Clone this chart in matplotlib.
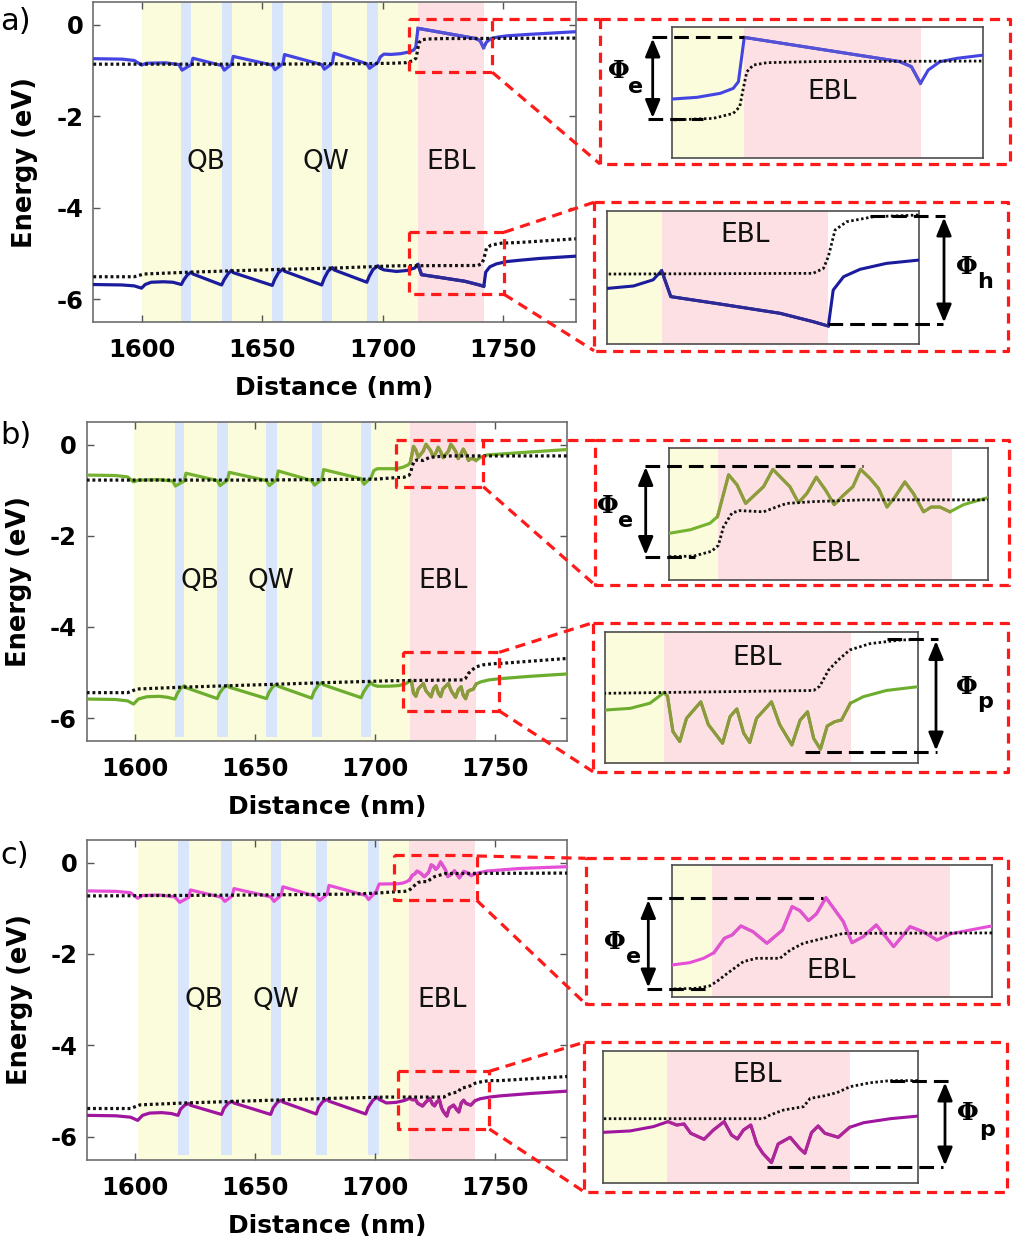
import numpy as np
import matplotlib
matplotlib.use('Agg')
import matplotlib.pyplot as plt
from matplotlib.lines import Line2D
from matplotlib.patches import FancyArrowPatch

plt.rcParams['font.family'] = ['DejaVu Sans']
plt.rcParams['axes.unicode_minus'] = False

# ---- layer layout (nm) ----
a_qb_start = 1600
a_qw = [(1616.5, 1620.6), (1633.2, 1637.3), (1654.2, 1658.6), (1674.7, 1679.1), (1693.4, 1698.0)]
a_ebl = (1714.6, 1741.9)

b_qb_start = 1599.5
b_qw = [(1616.7, 1620.6), (1634.3, 1638.6), (1654.8, 1659.0), (1673.6, 1677.9), (1694.2, 1698.3)]
b_ebl = (1714.7, 1742.2)

c_qb_start = 1601
c_qw = [(1617.8, 1622.3), (1635.9, 1640.4), (1656.4, 1660.8), (1675.4, 1680.0), (1697.1, 1701.6)]
c_ebl = (1714.1, 1741.5)

# ---- band diagrams: (distance nm, energy eV) ----
a_cb = [(1580, -0.74), (1592, -0.75), (1597, -0.78), (1600, -0.88), (1602, -0.84), (1610, -0.83),
        (1615.5, -0.87), (1616.8, -0.99), (1620.6, -0.87), (1621.3, -0.73),
        (1633.2, -0.89), (1634.3, -0.99), (1637.3, -0.86), (1638.0, -0.69),
        (1654.2, -0.88), (1655.3, -0.98), (1658.6, -0.85), (1659.3, -0.65),
        (1674.7, -0.87), (1675.8, -0.97), (1679.1, -0.84), (1679.8, -0.62),
        (1693.4, -0.85), (1694.5, -0.95), (1698.0, -0.82), (1699.0, -0.70), (1700.5, -0.64),
        (1703.4, -0.647), (1707.3, -0.631), (1710.9, -0.594), (1712.9, -0.548), (1713.7, -0.486),
        (1714.6, -0.076), (1738.6, -0.30), (1740.4, -0.347), (1741.8, -0.502), (1743.0, -0.378),
        (1744.8, -0.301), (1747.4, -0.27), (1751.5, -0.24), (1760, -0.21), (1770, -0.18), (1780, -0.15)]
a_efn = [(1580, -0.86), (1600, -0.86), (1650, -0.86), (1690, -0.85), (1703.4, -0.841), (1709.8, -0.826),
         (1712.9, -0.78), (1713.9, -0.718), (1714.5, -0.533), (1715.0, -0.394), (1716.0, -0.332),
         (1718.1, -0.31), (1725.3, -0.30), (1780, -0.29)]
a_vb = [(1580, -5.68), (1592, -5.69), (1597, -5.71), (1600, -5.76), (1601.5, -5.68), (1604, -5.63),
        (1609, -5.62), (1613, -5.63), (1616.5, -5.68), (1617.5, -5.58), (1619, -5.47), (1620.6, -5.41),
        (1621.3, -5.45), (1633.2, -5.69), (1634.2, -5.58), (1635.8, -5.45), (1637.3, -5.37), (1638.0, -5.42),
        (1654.2, -5.70), (1655.2, -5.57), (1656.8, -5.42), (1658.6, -5.34), (1659.3, -5.39),
        (1674.7, -5.69), (1675.7, -5.55), (1677.3, -5.39), (1679.1, -5.31), (1679.8, -5.36),
        (1693.4, -5.63), (1694.4, -5.50), (1696.0, -5.35), (1698.0, -5.27), (1698.8, -5.32), (1700.5, -5.36),
        (1705.7, -5.394), (1710.0, -5.373), (1713.2, -5.32), (1714.6, -5.241), (1716.1, -5.465),
        (1724.2, -5.529), (1734.0, -5.609), (1739.4, -5.681), (1741.9, -5.719), (1742.7, -5.408),
        (1744.4, -5.293), (1747.1, -5.229), (1751.4, -5.178), (1756.8, -5.149), (1765, -5.11), (1780, -5.06)]
a_efp = [(1580, -5.51), (1597, -5.51), (1601, -5.45), (1620, -5.41), (1650, -5.36), (1680, -5.32),
         (1705.7, -5.27), (1739.4, -5.264), (1741.1, -5.221), (1741.9, -5.12), (1743.0, -4.89),
         (1744.9, -4.818), (1749.3, -4.775), (1756.8, -4.76), (1780, -4.68)]

b_cb = [(1580, -0.67), (1592, -0.68), (1597, -0.71), (1599.5, -0.82), (1601.5, -0.78), (1610, -0.77),
        (1615.8, -0.80), (1616.9, -0.91), (1620.6, -0.80), (1621.3, -0.63),
        (1634.3, -0.79), (1635.5, -0.90), (1638.6, -0.78), (1639.3, -0.61),
        (1654.8, -0.79), (1656.0, -0.90), (1659.0, -0.77), (1659.7, -0.58),
        (1673.6, -0.79), (1674.8, -0.89), (1677.9, -0.76), (1678.6, -0.55),
        (1694.2, -0.75), (1695.4, -0.87), (1698.3, -0.73), (1699.5, -0.57), (1701, -0.53),
        (1709, -0.53), (1711.5, -0.50), (1713.8, -0.446), (1714.7, -0.39), (1716.0, -0.04), (1717.0, -0.126),
        (1718.0, -0.28), (1720.1, -0.14), (1721.2, 0.005), (1723.2, -0.14), (1724.2, -0.274), (1725.2, -0.196),
        (1726.3, -0.06), (1727.4, -0.17), (1728.4, -0.29), (1729.5, -0.21), (1730.6, -0.14), (1731.5, 0.005),
        (1732.6, -0.07), (1733.6, -0.154), (1734.6, -0.31), (1735.5, -0.23), (1736.7, -0.10), (1737.7, -0.196),
        (1738.9, -0.35), (1739.8, -0.31), (1740.8, -0.31), (1742.0, -0.35), (1743.6, -0.29), (1746.5, -0.23),
        (1760, -0.18), (1780, -0.11)]
b_efn = [(1580, -0.78), (1650, -0.78), (1700, -0.76), (1709, -0.725), (1711.9, -0.72), (1714.0, -0.68),
         (1714.8, -0.63), (1715.4, -0.475), (1716.4, -0.36), (1717.3, -0.34), (1720.1, -0.35), (1721.6, -0.31),
         (1722.8, -0.28), (1725.9, -0.265), (1731.8, -0.25), (1780, -0.25)]
b_vb = [(1580, -5.58), (1592, -5.59), (1597, -5.62), (1599.5, -5.69), (1601.5, -5.58), (1605, -5.53),
        (1610, -5.52), (1613.5, -5.54), (1616.7, -5.58), (1617.7, -5.46), (1619.2, -5.34), (1620.6, -5.29),
        (1621.3, -5.33), (1634.3, -5.57), (1635.3, -5.45), (1637.0, -5.33), (1638.6, -5.28), (1639.3, -5.32),
        (1654.8, -5.57), (1655.8, -5.44), (1657.4, -5.31), (1659.0, -5.26), (1659.7, -5.30),
        (1673.6, -5.56), (1674.6, -5.42), (1676.3, -5.28), (1677.9, -5.22), (1678.6, -5.27),
        (1694.2, -5.55), (1695.2, -5.43), (1696.8, -5.30), (1698.3, -5.22), (1699.2, -5.27), (1701, -5.30),
        (1706.0, -5.298), (1709.7, -5.286), (1712.6, -5.25), (1714.7, -5.175), (1715.2, -5.20), (1716.0, -5.45),
        (1717.0, -5.52), (1718.0, -5.356), (1720.1, -5.24), (1721.2, -5.40), (1723.3, -5.532), (1724.4, -5.344),
        (1725.4, -5.29), (1726.4, -5.46), (1727.3, -5.527), (1728.3, -5.356), (1730.5, -5.24), (1731.7, -5.40),
        (1733.5, -5.544), (1734.7, -5.37), (1735.8, -5.31), (1736.7, -5.497), (1737.7, -5.574), (1738.7, -5.41),
        (1739.8, -5.38), (1740.8, -5.368), (1742.1, -5.25), (1744.0, -5.204), (1747.4, -5.16), (1752.1, -5.133),
        (1765, -5.08), (1780, -5.03)]
b_efp = [(1580, -5.44), (1597, -5.44), (1601, -5.36), (1620, -5.32), (1650, -5.27), (1680, -5.22),
         (1706, -5.18), (1736.7, -5.16), (1737.6, -5.13), (1738.9, -5.016), (1740.3, -4.946), (1742.0, -4.875),
         (1745.0, -4.83), (1749.4, -4.805), (1752.1, -4.80), (1780, -4.69)]

c_cb = [(1580, -0.62), (1592, -0.63), (1598, -0.66), (1601, -0.78), (1603, -0.72), (1610, -0.71),
        (1616.5, -0.75), (1618.5, -0.87), (1622.3, -0.76), (1623.0, -0.60),
        (1635.9, -0.76), (1637.3, -0.85), (1640.4, -0.73), (1641.1, -0.57),
        (1656.4, -0.75), (1657.8, -0.85), (1660.8, -0.71), (1661.5, -0.53),
        (1675.4, -0.74), (1676.8, -0.83), (1680.0, -0.69), (1680.7, -0.50),
        (1696.0, -0.72), (1697.2, -0.81), (1700.5, -0.62), (1701.6, -0.47),
        (1709.5, -0.464), (1711.5, -0.448), (1713.1, -0.417), (1714.3, -0.377), (1715.5, -0.275), (1716.4, -0.251),
        (1717.4, -0.187), (1718.8, -0.228), (1720.4, -0.31), (1722.2, -0.216), (1723.3, -0.05), (1724.2, -0.078),
        (1725.2, -0.149), (1726.1, -0.102), (1727.2, 0.014), (1729.2, -0.156), (1730.2, -0.306), (1731.5, -0.263),
        (1733.0, -0.18), (1735.0, -0.334), (1736.9, -0.192), (1738.4, -0.228), (1740.0, -0.287), (1741.5, -0.244),
        (1743.8, -0.216), (1746.3, -0.187), (1760, -0.13), (1780, -0.09)]
c_efn = [(1580, -0.73), (1650, -0.71), (1690, -0.69), (1700, -0.67), (1709.5, -0.635), (1712.3, -0.63),
         (1713.8, -0.613), (1714.6, -0.583), (1716.1, -0.512), (1717.7, -0.44), (1719.2, -0.417), (1721.9, -0.417),
         (1723.1, -0.358), (1724.6, -0.31), (1726.9, -0.275), (1729.2, -0.24), (1780, -0.23)]
c_vb = [(1580, -5.53), (1592, -5.54), (1598, -5.57), (1601, -5.64), (1603, -5.53), (1606, -5.48),
        (1611, -5.47), (1615, -5.49), (1617.8, -5.53), (1618.8, -5.40), (1620.5, -5.31), (1622.3, -5.27),
        (1623.0, -5.31), (1635.9, -5.51), (1636.9, -5.38), (1638.6, -5.27), (1640.4, -5.22), (1641.1, -5.26),
        (1656.4, -5.51), (1657.4, -5.37), (1659.1, -5.25), (1660.8, -5.20), (1661.5, -5.24),
        (1675.4, -5.50), (1676.4, -5.35), (1678.1, -5.23), (1680.0, -5.18), (1680.7, -5.22),
        (1696.0, -5.50), (1697.0, -5.36), (1699.0, -5.20), (1700.8, -5.13), (1701.6, -5.18),
        (1704.6, -5.259), (1708.6, -5.246), (1712.1, -5.205), (1714.3, -5.158), (1715.6, -5.19), (1716.7, -5.18),
        (1717.7, -5.268), (1719.7, -5.325), (1721.1, -5.237), (1722.7, -5.158), (1723.8, -5.284), (1724.7, -5.322),
        (1725.6, -5.237), (1726.7, -5.19), (1727.6, -5.369), (1728.5, -5.457), (1729.8, -5.545), (1730.8, -5.369),
        (1732.6, -5.306), (1734.0, -5.41), (1734.8, -5.457), (1735.8, -5.262), (1736.8, -5.199), (1737.8, -5.268),
        (1739.8, -5.306), (1741.5, -5.212), (1743.6, -5.168), (1747.6, -5.13), (1751.8, -5.105),
        (1765, -5.05), (1780, -5.0)]
c_efp = [(1580, -5.38), (1598, -5.38), (1602, -5.30), (1620, -5.26), (1650, -5.21), (1680, -5.16),
         (1704.6, -5.13), (1728.6, -5.13), (1729.6, -5.095), (1731.6, -5.048), (1734.6, -5.016), (1735.6, -4.938),
         (1737.6, -4.915), (1739.6, -4.884), (1741.6, -4.827), (1744.6, -4.79), (1747.6, -4.77), (1751.8, -4.77),
         (1780, -4.68)]

# inset zoom windows (xlim, ylim)
a_zoom_cb = ((1703.4, 1751.5), (-1.19, 0.023))
a_zoom_vb = ((1705.7, 1756.8), (-5.874, -4.723))
b_zoom_cb = ((1709.0, 1746.5), (-0.92, 0.186))
b_zoom_vb = ((1706.0, 1752.1), (-5.673, -4.746))
c_zoom_cb = ((1709.5, 1746.3), (-0.694, 0.246))
c_zoom_vb = ((1704.6, 1751.8), (-5.741, -4.487))

x_ticks = [1600, 1650, 1700, 1750]
y_ticks = [-6, -4, -2, 0]

YELLOW = '#fafcdc'
BLUE = '#d8e5fa'
PINK = '#fde0e3'
RED = '#ff1a1a'

panels = {
    'a': dict(qb=a_qb_start, qw=a_qw, ebl=a_ebl, cb=a_cb, vb=a_vb, efn=a_efn, efp=a_efp,
              cb_col=('#4444e2', '#5552d4'), vb_col=('#1b1b9e', '#2d2a96'), qw_bottom=-6.5,
              labels=[('QB', 1626.6), ('QW', 1676.6), ('EBL', 1728.2)],
              zcb=a_zoom_cb, zvb=a_zoom_vb),
    'b': dict(qb=b_qb_start, qw=b_qw, ebl=b_ebl, cb=b_cb, vb=b_vb, efn=b_efn, efp=b_efp,
              cb_col=('#74b22f', '#8f9b3e'), vb_col=('#6cad2e', '#8c993c'), qw_bottom=-6.42,
              labels=[('QB', 1627.3), ('QW', 1656.8), ('EBL', 1728.3)],
              zcb=b_zoom_cb, zvb=b_zoom_vb),
    'c': dict(qb=c_qb_start, qw=c_qw, ebl=c_ebl, cb=c_cb, vb=c_vb, efn=c_efn, efp=c_efp,
              cb_col=('#e64ed8', '#de55cf'), vb_col=('#a0159f', '#ad2799'), qw_bottom=-6.40,
              labels=[('QB', 1628.8), ('QW', 1658.7), ('EBL', 1727.8)],
              zcb=c_zoom_cb, zvb=c_zoom_vb),
}

W, H = 1015, 1245
fig = plt.figure(figsize=(W / 100, H / 100), dpi=100)


def fx(px):
    return px / W


def fy(py):
    return 1 - py / H


def add_ax(l, t, r, b):
    return fig.add_axes([fx(l), fy(b), (r - l) / W, (b - t) / H])


def draw_layers(ax, p, ylim, main):
    ax.axvspan(p['qb'], p['ebl'][0], color=YELLOW, lw=0, zorder=0)
    ax.axvspan(p['ebl'][0], p['ebl'][1], color=PINK, lw=0, zorder=0)
    if main:
        ymin = (p['qw_bottom'] - ylim[0]) / (ylim[1] - ylim[0])
        for s, e in p['qw']:
            ax.axvspan(s, e, ymin=ymin, color=BLUE, lw=0, zorder=0.5)


def draw_curve(ax, data, cols, ebl, lw):
    x, y = np.array(data).T
    ax.plot(x, y, color=cols[0], lw=lw, solid_joinstyle='round', zorder=3)
    m = (x >= ebl[0] - 0.05) & (x <= ebl[1] + 0.05)
    ax.plot(x[m], y[m], color=cols[1], lw=lw, solid_joinstyle='round', zorder=3.1)


def draw_level(ax, data, lw):
    x, y = np.array(data).T
    ax.plot(x, y, color='#111111', lw=lw, ls=(0, (0.9, 0.9)), zorder=4)


main_box = {'a': (93.3, 2, 575.7, 322), 'b': (86.7, 421.7, 567.3, 741), 'c': (87.3, 839.7, 567.3, 1159.7)}
inset_cb_box = {'a': (671.7, 26.7, 983.3, 157.7), 'b': (669, 447.7, 988.3, 580), 'c': (672.3, 865, 991.7, 997.3)}
inset_vb_box = {'a': (607.3, 210.7, 919.3, 344), 'b': (605, 631.7, 918.3, 763.3), 'c': (603.3, 1050.7, 918.3, 1183.3)}
inset_cb_label = {'a': (0.514, 0.50), 'b': (0.52, 0.20), 'c': (0.497, 0.20)}
inset_vb_label = {'a': (0.441, 0.815), 'b': (0.484, 0.80), 'c': (0.489, 0.813)}
panel_tag_y = {'a': 21, 'b': 436, 'c': 856}

main_ylim = (-6.5, 0.5)
main_xlim = (1580, 1780)

for key, p in panels.items():
    ax = add_ax(*main_box[key])
    draw_layers(ax, p, main_ylim, True)
    draw_curve(ax, p['cb'], p['cb_col'], p['ebl'], 2.3)
    draw_curve(ax, p['vb'], p['vb_col'], p['ebl'], 2.3)
    draw_level(ax, p['efn'], 2.3)
    draw_level(ax, p['efp'], 2.3)
    for txt, xpos in p['labels']:
        ax.text(xpos, -3.0, txt, ha='center', va='center', fontsize=19, color='#111111', zorder=5)
    ax.set_xlim(*main_xlim)
    ax.set_ylim(*main_ylim)
    ax.set_xticks(x_ticks)
    ax.set_yticks(y_ticks)
    ax.set_xticklabels([str(v) for v in x_ticks])
    ax.set_yticklabels([str(v) for v in y_ticks])
    ax.tick_params(direction='in', length=5, width=1, top=True, right=True, color='#555555',
                   labelsize=17.5)
    ax.tick_params(axis='x', pad=11.5)
    ax.tick_params(axis='y', pad=7)
    for lbl in ax.get_xticklabels() + ax.get_yticklabels():
        lbl.set_fontweight('bold')
    for sp in ax.spines.values():
        sp.set_color('#6e6e6e')
        sp.set_linewidth(1.2)
    ax.set_xlabel('Distance (nm)', fontsize=18, fontweight='bold')
    ax.set_ylabel('Energy (eV)', fontsize=18.5, fontweight='bold')
    ax.xaxis.set_label_coords(0.5, -0.206)
    ax.xaxis.label.set_va('center')
    ax.yaxis.set_label_coords(-0.141, 0.5)
    ax.yaxis.label.set_va('center')
    fig.text(fx(0), fy(panel_tag_y[key]), key + ')', fontsize=22, ha='left', va='center')

    # zoomed insets
    for box, band, lvl, zoom, lab in ((inset_cb_box, 'cb', 'efn', p['zcb'], inset_cb_label),
                                      (inset_vb_box, 'vb', 'efp', p['zvb'], inset_vb_label)):
        ia = add_ax(*box[key])
        draw_layers(ia, p, zoom[1], False)
        draw_curve(ia, p[band], p[band + '_col'], p['ebl'], 2.2)
        draw_level(ia, p[lvl], 2.0)
        ia.set_xlim(*zoom[0])
        ia.set_ylim(*zoom[1])
        ia.set_xticks([])
        ia.set_yticks([])
        for sp in ia.spines.values():
            sp.set_color('#4d4d4d')
            sp.set_linewidth(1.2)
        ia.text(lab[key][0], lab[key][1], 'EBL', transform=ia.transAxes, ha='center', va='center',
                fontsize=19, color='#111111', zorder=5)


# ---- red dashed zoom boxes, frames and connectors (pixel layout) ----
def rect(l, t, r, b):
    return [(l, t), (r, t), (r, b), (l, b), (l, t)]


red_paths = [
    # a
    rect(409.3, 19, 492.3, 72.3), [(492.3, 19), (600, 19)], rect(600, 19, 1010, 164),
    [(492.3, 72.3), (600, 164)],
    rect(409.3, 232.3, 504, 294.3), [(504, 232.3), (594, 202.3)], [(504, 294.3), (594, 350.7)],
    rect(594, 202.3, 1008.3, 350.7),
    # b
    rect(396, 440, 483.3, 486.7), [(483.3, 440), (595, 440)], rect(595, 440, 1009, 585),
    [(483.3, 486.7), (595, 585)],
    rect(403.3, 652.3, 499.3, 711), [(499.3, 652.3), (593, 622.7)], [(499.3, 711), (593, 771.7)],
    rect(593, 622.7, 1007.7, 771.7),
    # c
    rect(394.3, 854.7, 476.7, 900.3), [(476.7, 856), (585.7, 858.3)], rect(585.7, 858.3, 1008.3, 1004),
    [(476.7, 900.3), (585.7, 1004)],
    rect(398.3, 1071.3, 489.3, 1129), [(489.3, 1071.3), (584, 1042.3)], [(489.3, 1129), (584, 1191.7)],
    rect(584, 1042.3, 1007.3, 1191.7),
]
for path in red_paths:
    xs = [fx(u) for u, v in path]
    ys = [fy(v) for u, v in path]
    fig.add_artist(Line2D(xs, ys, transform=fig.transFigure, color=RED, lw=2.3,
                          ls=(0, (3.2, 2.1)), solid_capstyle='butt', zorder=6))

# ---- barrier height markers ----
phi_dashes = [
    [(651.7, 36.7), (744, 36.7)], [(648, 119.3), (703, 119.3)],
    [(870, 216), (945, 216)], [(828.3, 324), (943.3, 324)],
    [(645, 465.7), (863.3, 465.7)], [(645, 556.7), (695, 556.7)],
    [(886.7, 639.3), (938.3, 639.3)], [(805, 752.3), (936.7, 752.3)],
    [(646.7, 898.3), (823.3, 898.3)], [(646.7, 989), (710, 989)],
    [(890, 1080.7), (953.3, 1080.7)], [(766.7, 1167.3), (943.3, 1167.3)],
]
for path in phi_dashes:
    xs = [fx(u) for u, v in path]
    ys = [fy(v) for u, v in path]
    fig.add_artist(Line2D(xs, ys, transform=fig.transFigure, color='black', lw=2.2,
                          ls=(0, (4.8, 2.3)), zorder=6))

phi_arrows = [(652.7, 38.5, 118), (944, 217.5, 322.5), (645.7, 467, 555),
              (936, 641, 750.5), (648.3, 900, 987.5), (945, 1082.5, 1165.5)]
for xa, y1, y2 in phi_arrows:
    fig.add_artist(FancyArrowPatch((fx(xa), fy(y1)), (fx(xa), fy(y2)), transform=fig.transFigure,
                                   arrowstyle='<|-|>,head_length=0.6,head_width=0.25', mutation_scale=18,
                                   lw=2, color='black', shrinkA=0, shrinkB=0, zorder=7))

phi_labels = [((618.7, 71.2), (636, 87), 'e'), ((967.3, 267.3), (985, 282), 'h'),
              ((608.3, 506), (626, 521), 'e'), ((966.7, 686.7), (985, 702), 'p'),
              ((615, 941.7), (633.3, 957), 'e'), ((968.3, 1113.3), (986.7, 1130), 'p')]
for (px1, py1), (px2, py2), sub in phi_labels:
    fig.text(fx(px1), fy(py1), '\u03a6', family='DejaVu Serif', fontweight='bold', fontsize=18,
             ha='center', va='center')
    fig.text(fx(px2), fy(py2), sub, fontweight='bold', fontsize=16, ha='center', va='center')

fig.savefig('out.png', dpi=100)
